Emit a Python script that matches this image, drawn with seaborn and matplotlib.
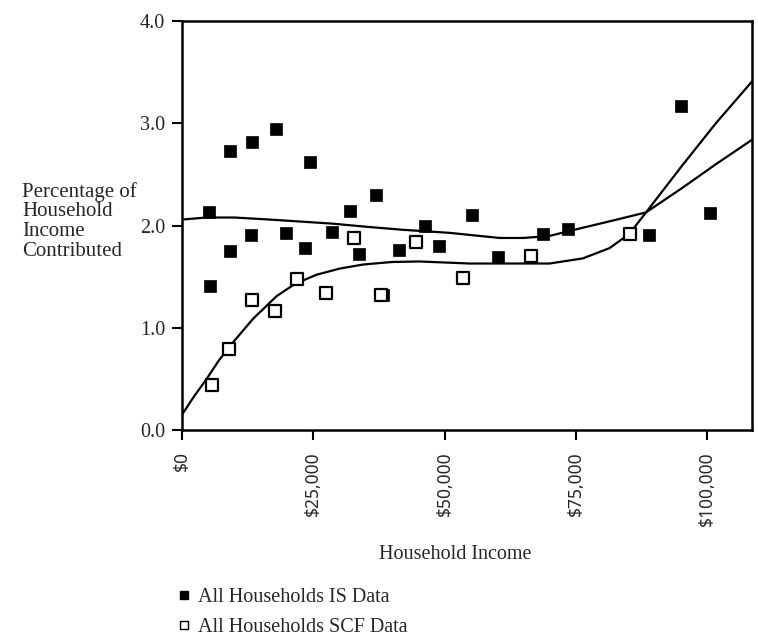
import matplotlib
matplotlib.use("Agg")
import matplotlib.pyplot as plt
import seaborn as sns
import pandas as pd
from matplotlib.lines import Line2D

# ---- data ----
is_income = [5190, 5320, 9125, 9190, 13120, 13250, 17870, 19770, 23380, 24400,
             28580, 31940, 33710, 37010, 38300, 41390, 46260, 48990, 55260,
             60200, 68690, 73500, 88970, 95000, 100570]
is_pct = [2.13, 1.41, 1.75, 2.73, 1.91, 2.82, 2.95, 1.93, 1.78, 2.62,
          1.94, 2.14, 1.72, 2.30, 1.32, 1.76, 2.00, 1.80, 2.10,
          1.69, 1.92, 1.97, 1.91, 3.17, 2.12]

scf_income = [5640, 9000, 13370, 17680, 22000, 27380, 32700, 37960, 44480,
              53480, 66480, 85360]
scf_pct = [0.44, 0.79, 1.27, 1.17, 1.48, 1.34, 1.88, 1.32, 1.84,
           1.49, 1.70, 1.92]

is_curve_x = [0, 4700, 10000, 16700, 22700, 28700, 35000, 42000, 50950, 54750,
              60460, 65000, 69960, 76300, 82000, 88340, 95250, 101600, 108500]
is_curve_y = [2.06, 2.08, 2.08, 2.06, 2.04, 2.02, 1.99, 1.96, 1.93, 1.91,
              1.88, 1.88, 1.90, 1.98, 2.05, 2.13, 2.37, 2.60, 2.84]

scf_curve_x = [0, 2300, 4690, 7000, 9750, 13550, 18000, 21500, 25600, 30000,
               34470, 40000, 45250, 54750, 60460, 69960, 76300, 81370, 85170,
               88340, 95250, 101600, 108500]
scf_curve_y = [0.15, 0.33, 0.50, 0.68, 0.86, 1.09, 1.31, 1.43, 1.52, 1.58,
               1.62, 1.645, 1.65, 1.63, 1.63, 1.63, 1.68, 1.78, 1.92,
               2.13, 2.59, 3.00, 3.41]

x_ticks = [0, 25000, 50000, 75000, 100000]
x_tick_labels = ["\\$0", "\\$25,000", "\\$50,000", "\\$75,000", "\\$100,000"]
y_ticks = [0.0, 1.0, 2.0, 3.0, 4.0]
y_tick_labels = ["0.0", "1.0", "2.0", "3.0", "4.0"]

legend_labels = ["All Households IS Data", "All Households SCF Data"]
x_title = "Household Income"
y_title = "Percentage of\nHousehold\nIncome\nContributed"

# ---- plotting ----
sns.set_style("white")
plt.rcParams["font.family"] = ["Liberation Serif", "DejaVu Serif"]

fig = plt.figure(figsize=(7.58, 6.43), dpi=100)
ax = fig.add_axes([0.240, 0.331, 0.752, 0.636])

is_df = pd.DataFrame({"income": is_income, "pct": is_pct})
scf_df = pd.DataFrame({"income": scf_income, "pct": scf_pct})
isc_df = pd.DataFrame({"income": is_curve_x, "pct": is_curve_y})
scfc_df = pd.DataFrame({"income": scf_curve_x, "pct": scf_curve_y})

sns.lineplot(data=isc_df, x="income", y="pct", ax=ax, color="black",
             linewidth=1.6, sort=True, estimator=None)
sns.lineplot(data=scfc_df, x="income", y="pct", ax=ax, color="black",
             linewidth=1.6, sort=True, estimator=None)
sns.scatterplot(data=is_df, x="income", y="pct", ax=ax, marker="s", s=80,
                color="black", edgecolor="black", linewidth=0.5, zorder=3)
sns.scatterplot(data=scf_df, x="income", y="pct", ax=ax, marker="s", s=75,
                facecolor="white", edgecolor="black", linewidth=1.6, zorder=3)

ax.set_xlim(0, 108500)
ax.set_ylim(0, 4.0)
ax.set_xticks(x_ticks)
ax.set_xticklabels(x_tick_labels, rotation=90, fontsize=12.5,
                   family=["Noto Sans", "DejaVu Sans"], fontweight="semibold")
ax.set_yticks(y_ticks)
ax.set_yticklabels(y_tick_labels, fontsize=14.5)
ax.tick_params(axis="both", direction="out", length=7, width=1.5, color="black",
               left=True, bottom=True)
ax.tick_params(axis="x", pad=8)
ax.tick_params(axis="y", pad=5)
ax.set_xlabel("")
ax.set_ylabel("")
for sp in ax.spines.values():
    sp.set_color("black")
    sp.set_linewidth(1.8)

fig.text(0.600, 0.137, x_title, ha="center", va="center", fontsize=14.5)
fig.text(0.029, 0.656, y_title, ha="left", va="center", fontsize=15,
         linespacing=1.05)

handles = [
    Line2D([], [], marker="s", linestyle="none", markersize=6,
           markerfacecolor="black", markeredgecolor="black"),
    Line2D([], [], marker="s", linestyle="none", markersize=6,
           markerfacecolor="white", markeredgecolor="black", markeredgewidth=1.0),
]
fig.legend(handles, legend_labels, loc="upper left",
           bbox_to_anchor=(0.222, 0.098), frameon=False, fontsize=14.5,
           handletextpad=0.3, labelspacing=0.55, handlelength=0.8,
           borderaxespad=0)

fig.savefig("out.png", dpi=100)
